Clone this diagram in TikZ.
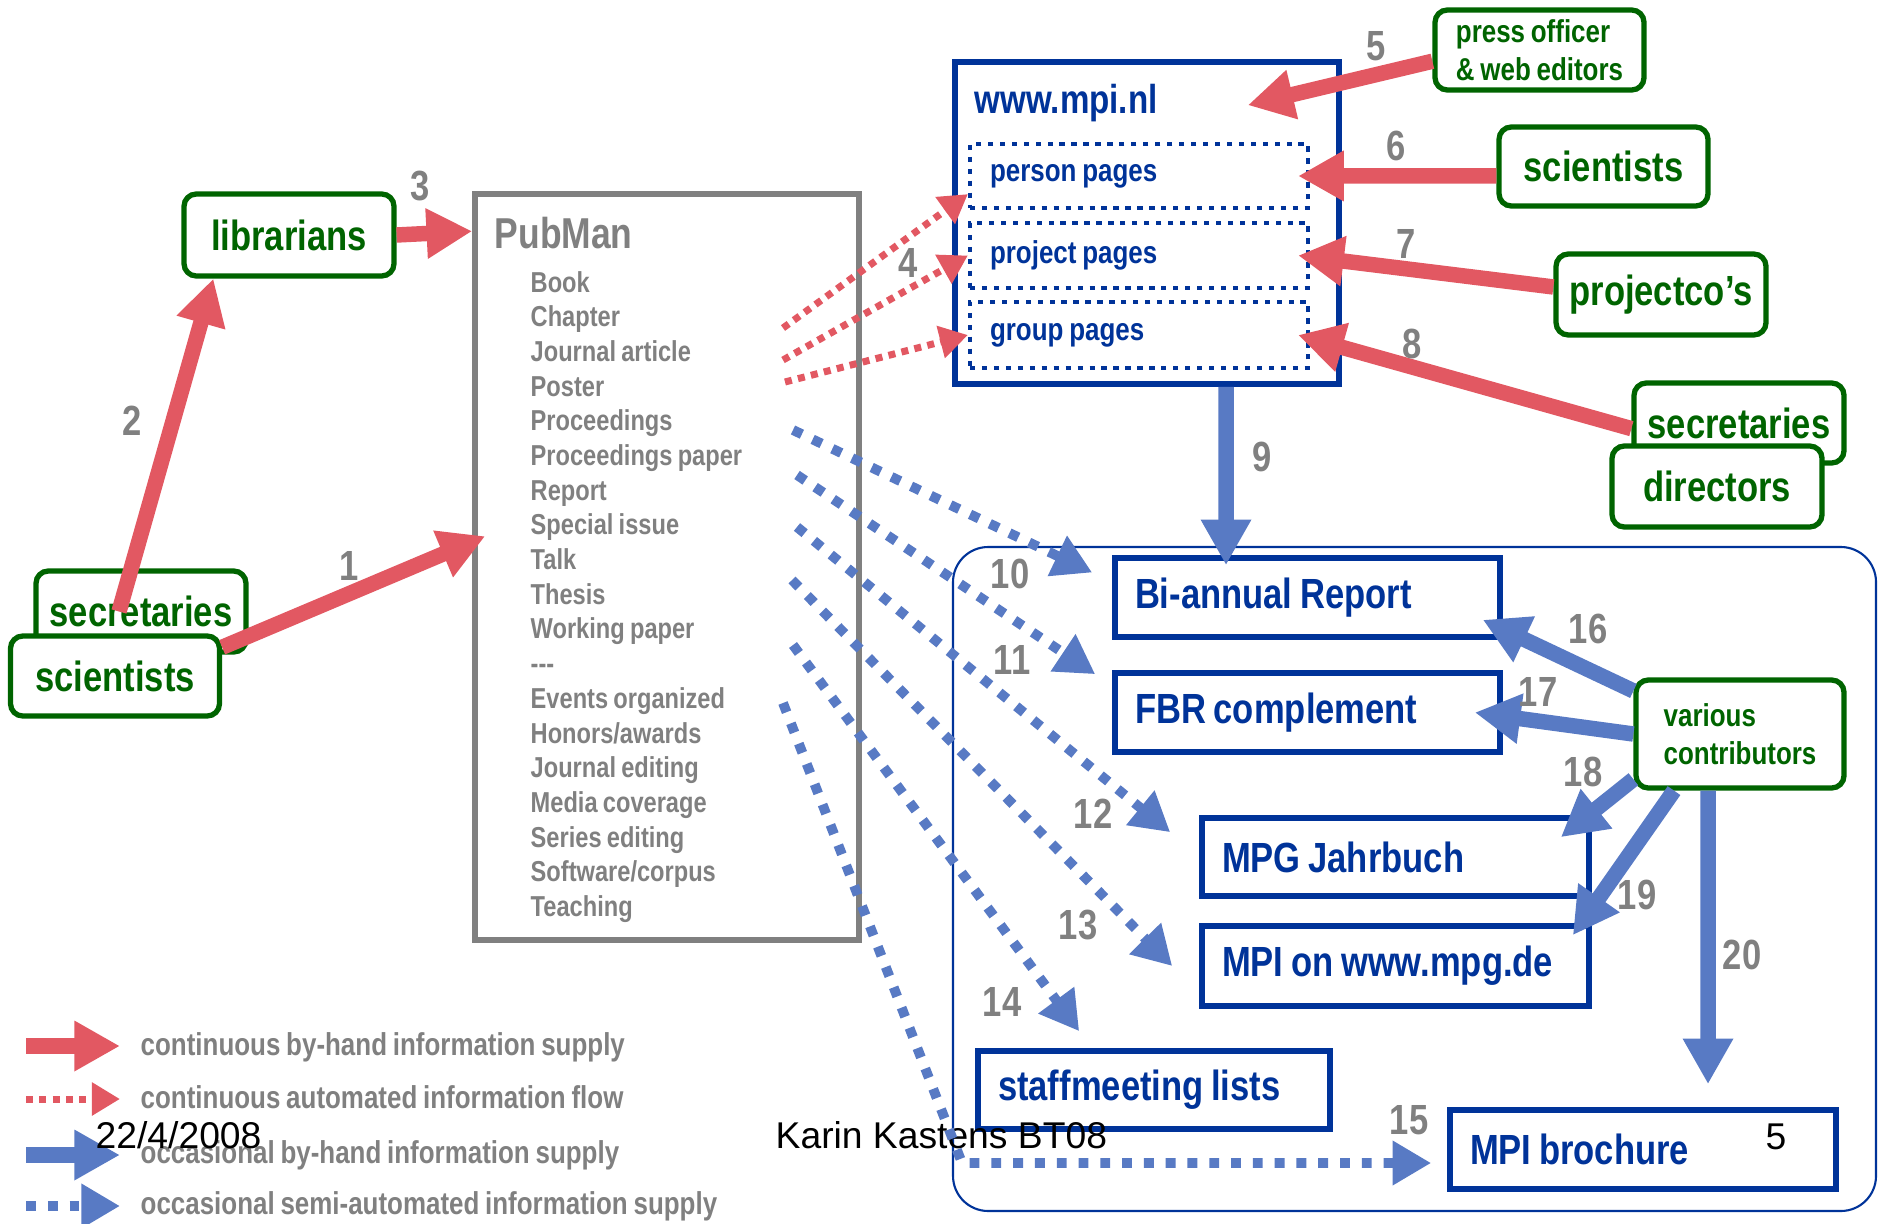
\documentclass[tikz,border=0pt]{standalone}
\usepackage{fontspec}
\setmainfont{Liberation Sans}[FakeStretch=0.82,WordSpace=0.8]
\newfontfamily\plainfont{Liberation Sans}
\usetikzlibrary{arrows.meta}

\definecolor{grn}{RGB}{0,100,0}
\definecolor{blu}{RGB}{0,51,153}
\definecolor{gry}{RGB}{128,128,128}
\definecolor{arrred}{RGB}{226,88,98}
\definecolor{arrblue}{RGB}{88,122,196}

\tikzset{
  person/.style={draw=grn, line width=1.5pt, rounded corners=3.5pt, fill=white, text=grn,
    font=\bfseries\fontsize{12}{14}\selectfont, minimum width=21mm, minimum height=8mm, inner sep=0pt},
  smallperson/.style={person, font=\bfseries\fontsize{9}{10.9}\selectfont, align=left},
  product/.style={draw=blu, line width=1.6pt, fill=white, text=blu,
    font=\bfseries\fontsize{12}{14}\selectfont, align=flush left, inner xsep=2mm, minimum height=7.9mm},
  webpage/.style={draw=blu, line width=1.2pt, dash pattern=on 1.5pt off 1.9pt, text=blu,
    font=\bfseries\fontsize{9}{11}\selectfont, align=flush left, inner xsep=2mm, text width=29.8mm},
  num/.style={text=gry, font=\bfseries\fontsize{12}{14}\selectfont, inner sep=0pt},
  legtext/.style={text=gry, font=\bfseries\fontsize{9}{11}\selectfont, inner sep=0pt, anchor=base west},
  hand/.style={line width=4.4pt, -{Triangle[length=13pt,width=13.5pt]}},
  handred/.style={hand, draw=arrred},
  handblue/.style={hand, draw=arrblue},
  autored/.style={draw=arrred, line width=2pt, dash pattern=on 2pt off 1.8pt, -{Triangle[length=8pt,width=9pt]}},
  semiblue/.style={draw=arrblue, line width=2.8pt, dash pattern=on 2.8pt off 3.4pt, -{Triangle[length=11pt,width=12pt]}},
}

\begin{document}
\begin{tikzpicture}[x=0.1mm,y=-0.1mm]
  \useasboundingbox (0,0) rectangle (1881,1223);

  % publications region
  \node (area) [draw=blu, line width=0.6pt, rounded corners=10pt, minimum width=92.3mm,
    minimum height=66.4mm, inner sep=0pt] at (1414.5,879) {};

  % PubMan
  \node (pub) [draw=gry, line width=1.6pt, minimum width=38.4mm, minimum height=74.6mm, inner sep=0pt] at (667,567) {};
  \node (pubt) [anchor=base west, inner sep=0pt, text=gry, font=\bfseries\fontsize{12.3}{14}\selectfont] at (494,249) {PubMan};
  \node (publist) [anchor=north west, inner sep=0pt, align=left, text=gry,
    font=\bfseries\fontsize{8.2}{9.87}\selectfont] at (530,270.5)
    {Book\\Chapter\\Journal article\\Poster\\Proceedings\\Proceedings paper\\Report\\Special issue\\Talk\\Thesis\\Working paper\\-{}-{}-\\Events organized\\Honors/awards\\Journal editing\\Media coverage\\Series editing\\Software/corpus\\Teaching};

  % website
  \node (www) [draw=blu, line width=1.6pt, minimum width=38.4mm, minimum height=32.2mm, inner sep=0pt] at (1147,223) {};
  \node (wwwt) [anchor=base west, inner sep=0pt, text=blu, font=\bfseries\fontsize{11.5}{14}\selectfont] at (974,114) {www.mpi.nl};
  \node (pers) [webpage, minimum height=6.4mm] at (1139,176) {person pages};
  \node (proj) [webpage, minimum height=6.5mm] at (1139,255.5) {project pages};
  \node (grp) [webpage, minimum height=6.6mm] at (1139,335) {group pages};

  % people
  \node (lib) [person, minimum height=8.2mm] at (289,235) {librarians};
  \node (secL) [person, minimum height=8.1mm] at (141,611.5) {secretaries};
  \node (sciL) [person, minimum width=20.9mm] at (115,676) {scientists};
  \node (press) [smallperson, minimum width=20.9mm] at (1539.5,50) {press officer\\\& web editors};
  \node (sciR) [person, minimum width=20.9mm, minimum height=7.9mm] at (1603.5,166.5) {scientists};
  \node (projco) [person, minimum height=8.1mm] at (1661,294.5) {projectco’s};
  \node (secR) [person] at (1739,423) {secretaries};
  \node (dirs) [person, minimum height=8.1mm] at (1717,486.5) {directors};
  \node (vc) [smallperson, minimum width=20.8mm, minimum height=10.8mm] at (1740,734) {various\\contributors};

  % products
  \node (bar) [product, text width=34.5mm] at (1307.5,597.5) {Bi-annual Report};
  \node (fbr) [product, text width=34.5mm] at (1307.5,712.5) {FBR complement};
  \node (mpg) [product, text width=34.7mm, minimum height=7.8mm] at (1395.5,857) {MPG Jahrbuch};
  \node (mpide) [product, text width=34.7mm, minimum height=8mm] at (1395.5,966) {MPI on www.mpg.de};
  \node (staff) [product, text width=31.2mm, minimum height=7.8mm] at (1154,1090) {staffmeeting lists};
  \node (broch) [product, text width=34.6mm] at (1643,1149.5) {MPI brochure};

  % legend
  \node (leg1) [legtext] at (140,1055) {continuous by-hand information supply};
  \node (leg2) [legtext] at (140,1108) {continuous automated information flow};
  \node (leg3) [legtext] at (140,1163) {occasional by-hand information supply};
  \node (leg4) [legtext] at (140,1214) {occasional semi-automated information supply};
  \draw[handred] ([shift={(-11.4mm,0.9mm)}]leg1.base west) -- ([shift={(-2mm,0.9mm)}]leg1.base west);
  \draw[autored] ([shift={(-11.4mm,0.9mm)}]leg2.base west) -- ([shift={(-2mm,0.9mm)}]leg2.base west);
  \draw[handblue] ([shift={(-11.4mm,0.8mm)}]leg3.base west) -- ([shift={(-2mm,0.8mm)}]leg3.base west);
  \draw[semiblue] ([shift={(-11.4mm,0.8mm)}]leg4.base west) -- ([shift={(-2mm,0.8mm)}]leg4.base west);

  % footer
  \node (date) [anchor=base west, inner sep=0pt, font=\plainfont\fontsize{10.6}{12}\selectfont] at (95,1148) {22/4/2008};
  \node (author) [anchor=base west, inner sep=0pt, font=\plainfont\fontsize{10.6}{12}\selectfont] at (775,1148) {Karin Kastens BT08};
  \node (pgnum) [anchor=base west, inner sep=0pt, font=\plainfont\fontsize{10.6}{12}\selectfont] at (1765,1149) {5};

  % flows
  \coordinate (o4a) at (783,328);
  \coordinate (o4b) at (783,360);
  \coordinate (o4c) at (785,382);
  \coordinate (o10) at (793,430);
  \coordinate (o11) at (797,475);
  \coordinate (o12) at (797,527);
  \coordinate (o13) at (792,580);
  \coordinate (o14) at (793,645);
  \coordinate (o15) at (783,703);
  \coordinate (c15) at (962,1163);

  \draw[handred] (sciL.15) -- ([shift={(1.3mm,-34.5mm)}]pub.north west);
  \draw[handred] ([xshift=-2.2mm]secL.center) -- ([xshift=3.2mm]lib.south west);
  \draw[handred] (lib.east) -- ([yshift=-4mm]pub.north west);
  \draw[autored] (o4a) -- ([yshift=1.6mm]pers.south west);
  \draw[autored] (o4b) -- (proj.west);
  \draw[autored] (o4c) -- (grp.west);
  \draw[handred] (press.186) -- ([shift={(-9.4mm,-4.6mm)}]www.north east);
  \draw[handred] (sciR.185) -- ([xshift=-1.2mm]pers.east);
  \draw[handred] (projco.176) -- ([xshift=-1.2mm]proj.east);
  \draw[handred] (secR.183) -- ([xshift=-1.2mm]grp.east);
  \draw[handblue] ([xshift=7.9mm]www.south) -- ([shift={(-8.15mm,-1mm)}]bar.north);
  \draw[semiblue] (o10) -- ([shift={(-2mm,2.5mm)}]bar.west);
  \draw[semiblue] (o11) -- ([shift={(-1.7mm,-0.4mm)}]fbr.north west);
  \draw[semiblue] (o12) -- ([shift={(-2.9mm,-1.7mm)}]mpg.north west);
  \draw[semiblue] (o13) -- ([xshift=-2.7mm]mpide.west);
  \draw[semiblue] (o14) -- ([shift={(10.4mm,1.7mm)}]staff.north west);
  \draw[semiblue] (o15) -- (c15) -- ([shift={(-1.6mm,-1.35mm)}]broch.west);
  \draw[handblue] (vc.158) -- ([shift={(-2mm,2mm)}]bar.south east);
  \draw[handblue] (vc.west) -- ([xshift=-2.8mm]fbr.east);
  \draw[handblue] (vc.203) -- ([shift={(-3.1mm,-2.2mm)}]mpg.north east);
  \draw[handblue] ([xshift=-6.6mm]vc.south) -- ([shift={(-1.9mm,-1.2mm)}]mpide.north east);
  \draw[handblue] ([xshift=-3.2mm]vc.south) -- ([shift={(6.5mm,2.3mm)}]broch.north);

  % numbers
  \node (n1) [num] at (349,566) {1};
  \node (n2) [num] at (132,421) {2};
  \node (n3) [num] at (420,186) {3};
  \node (n4) [num] at (908,263) {4};
  \node (n5) [num] at (1376,46) {5};
  \node (n6) [num] at (1396,146) {6};
  \node (n7) [num] at (1406,244) {7};
  \node (n8) [num] at (1412,344) {8};
  \node (n9) [num] at (1262,457) {9};
  \node (n10) [num] at (1010,574) {10};
  \node (n11) [num] at (1012,660) {11};
  \node (n12) [num] at (1093,814) {12};
  \node (n13) [num] at (1078,925) {13};
  \node (n14) [num] at (1002,1002) {14};
  \node (n15) [num] at (1409,1120) {15};
  \node (n16) [num] at (1588,629) {16};
  \node (n17) [num] at (1538,692) {17};
  \node (n18) [num] at (1583,772) {18};
  \node (n19) [num] at (1637,895) {19};
  \node (n20) [num] at (1742,955) {20};
\end{tikzpicture}
\end{document}
